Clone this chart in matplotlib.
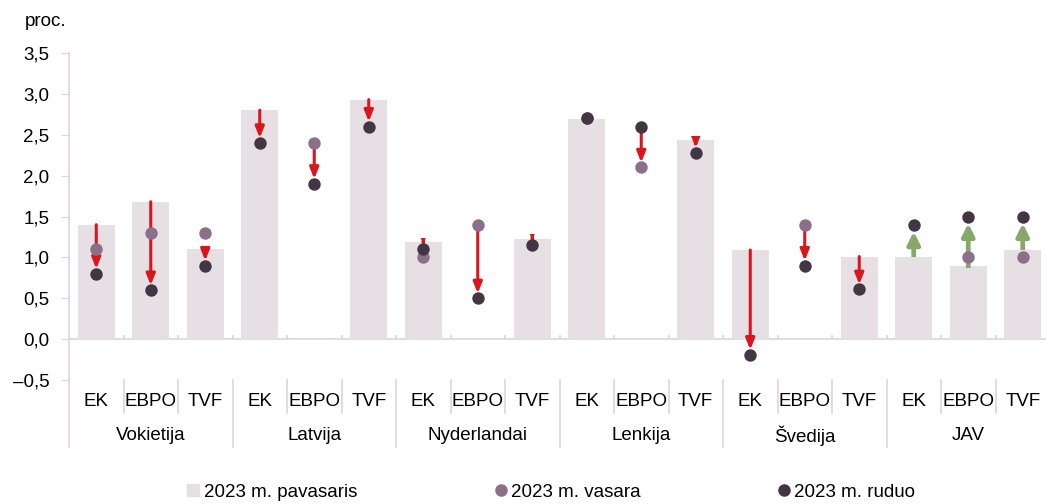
import matplotlib.pyplot as plt
import matplotlib.transforms as mtransforms
from matplotlib.lines import Line2D
from matplotlib.patches import Rectangle
import numpy as np

plt.rcParams['font.family'] = ['Liberation Sans', 'DejaVu Sans']

nan = np.nan
countries = ['Vokietija', 'Latvija', 'Nyderlandai', 'Lenkija', 'Švedija', 'JAV']
sources = ['EK', 'EBPO', 'TVF']

# 2023 m. pavasaris (bars), vasara and ruduo (dots)
spring = [1.4, 1.68, 1.1, 2.8, nan, 2.93, 1.19, nan, 1.23, 2.69, nan, 2.44, 1.09, nan, 1.01, 1.0, 0.9, 1.09]
summer = [1.1, 1.3, 1.3, nan, 2.4, nan, 1.0, 1.4, nan, 2.7, 2.1, nan, nan, 1.4, nan, nan, 1.0, 1.0]
autumn = [0.8, 0.6, 0.9, 2.4, 1.9, 2.6, 1.1, 0.5, 1.15, 2.7, 2.6, 2.28, -0.19, 0.9, 0.61, 1.4, 1.5, 1.5]
# change arrows
arrow_from = [1.4, 1.68, 1.1, 2.8, 2.4, 2.93, 1.19, 1.4, 1.23, nan, 2.6, 2.44, 1.09, 1.4, 1.01, 1.0, 0.87, 1.09]
arrow_to = [0.8, 0.6, 0.9, 2.4, 1.9, 2.6, 1.1, 0.5, 1.15, nan, 2.1, 2.28, -0.19, 0.9, 0.61, 1.4, 1.5, 1.5]

bar_col = '#E6E0E4'
summer_col = '#8C6F88'
autumn_col = '#433543'
red = '#D9161E'
green = '#86A96B'
axis_col = '#DDD5DB'
fs = 13.5

fig = plt.figure(figsize=(10.46, 5.04), dpi=100)
ax = fig.add_axes([69 / 1046, 124 / 504, 981 / 1046, 327 / 504])

x = np.arange(len(spring))
ax.bar(x, spring, width=0.68, color=bar_col, zorder=1)

for i in x:
    a, b = arrow_from[i], arrow_to[i]
    if np.isnan(a):
        continue
    if b < a:
        props = dict(arrowstyle='-|>,head_length=0.55,head_width=0.22', color=red, lw=2.2,
                     shrinkA=0, shrinkB=3.5, mutation_scale=12)
        lo, hi = b - 0.2, a + 0.05
    else:
        props = dict(arrowstyle='-|>,head_length=0.6,head_width=0.3', color=green, lw=3.4,
                     shrinkA=0, shrinkB=5, mutation_scale=12)
        lo, hi = a, b + 0.2
    ann = ax.annotate('', xy=(i, b), xytext=(i, a), arrowprops=props, zorder=3)
    # short arrows only show a cut-off head, as in the original
    ann.arrow_patch.set_clip_path(Rectangle((i - 0.5, lo), 1, hi - lo, transform=ax.transData))

ax.scatter(x, summer, s=80, color=summer_col, zorder=4, linewidths=0)
ax.scatter(x, autumn, s=80, color=autumn_col, zorder=5, linewidths=0)

ax.set_xlim(-0.5, len(spring) - 0.5)
ax.set_ylim(-0.5, 3.5)
for s in ax.spines.values():
    s.set_visible(False)
ax.axhline(0, color=axis_col, lw=1.2, zorder=0)
ax.vlines(x[:-1] + 0.5, 0, 0.05, color=axis_col, lw=1.2)

yt = np.arange(-0.5, 3.51, 0.5)
ax.set_yticks(yt)
ax.set_yticklabels([f'{v:.1f}'.replace('.', ',').replace('-', '–') for v in yt])
ax.tick_params(axis='y', length=6, color=axis_col, labelsize=fs, pad=8)
ax.set_xticks([])

# vertical axis line reaching into the label area
ax.plot([0, 0], [-0.205, 1], transform=ax.transAxes, color=axis_col, lw=1.2, clip_on=False)

trans = mtransforms.blended_transform_factory(ax.transData, ax.transAxes)
for i in x:
    ax.text(i, -0.067, sources[i % 3], transform=trans, ha='center', va='center', fontsize=fs)
for g, name in enumerate(countries):
    ax.text(g * 3 + 1, -0.171, name, transform=trans, ha='center', va='center', fontsize=fs)
for b in x[:-1] + 0.5:
    low = -0.205 if (b + 0.5) % 3 == 0 else -0.101
    ax.plot([b, b], [0, low], transform=trans, color=axis_col, lw=1.2, clip_on=False)

fig.text(25 / 1046, 1 - 22 / 504, 'proc.', va='center', ha='left', fontsize=fs)

handles = [
    Line2D([], [], marker='s', ls='', color=bar_col, markersize=8),
    Line2D([], [], marker='o', ls='', color=summer_col, markersize=8),
    Line2D([], [], marker='o', ls='', color=autumn_col, markersize=8),
]
labels = ['2023 m. pavasaris', '2023 m. vasara', '2023 m. ruduo']
fig.legend(handles, labels, loc='center', bbox_to_anchor=(551 / 1046, 1 - 492 / 504), ncol=3,
           frameon=False, handlelength=0.7, handletextpad=0.2, columnspacing=7.3,
           prop={'size': 13.5})

fig.savefig('out.png', dpi=100)
